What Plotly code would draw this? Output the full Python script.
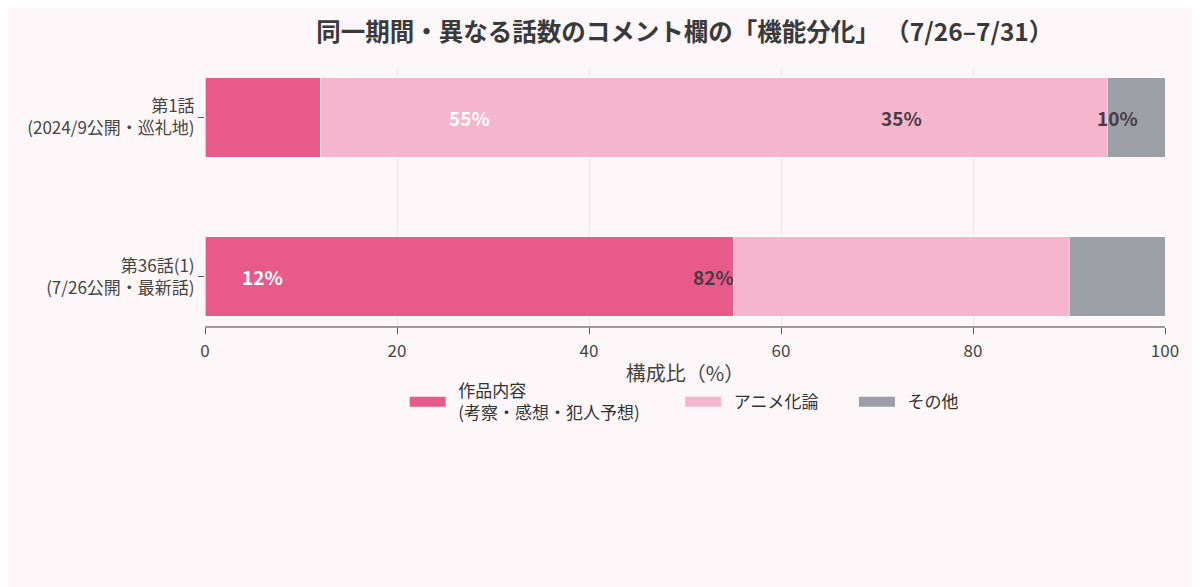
import plotly.graph_objects as go

# 話数ごとのコメント構成比（%）
episodes = ["第1話<br>(2024/9公開・巡礼地)", "第36話(1)<br>(7/26公開・最新話)"]
categories = ["作品内容<br>(考察・感想・犯人予想)", "アニメ化論", "その他"]
shares = {
    "作品内容<br>(考察・感想・犯人予想)": [12, 55],
    "アニメ化論": [82, 35],
    "その他": [6, 10],
}
colors = ["#E75A8A", "#F5B5CD", "#9CA0A6"]
label_colors = ["white", "#4a3b42", "#4a3b42"]

lead = "\u00a0" * 2   # gap between swatch and text
tail = "\u00a0" * 8   # gap before next legend entry
# the two-line entry gets its own legend so all swatches share one baseline
legend_of = ["legend", "legend2", "legend2"]

fig = go.Figure()
for k, (cat, col) in enumerate(zip(categories, colors)):
    fig.add_trace(go.Bar(
        y=episodes, x=shares[cat], name=cat, orientation="h",
        marker=dict(color=col, line=dict(color="rgba(255,255,255,0.6)", width=1)),
        width=0.5, showlegend=False,
    ))
    name = "<br>".join(lead + part for part in cat.split("<br>"))
    if k == 1:
        name += tail
    fig.add_trace(go.Scatter(
        x=[None], y=[None], mode="lines", name=name, legend=legend_of[k],
        line=dict(color=col, width=16),
    ))

# percentage labels (placed as in the original, on the opposite row; small ones dropped)
for i, ep in enumerate(episodes):
    other = 1 - i
    left = 0
    for cat, lc in zip(categories, label_colors):
        v = shares[cat][other]
        if v >= 8:
            fig.add_annotation(
                x=left + v / 2, y=ep, text="<b>%d%%</b>" % v, showarrow=False,
                font=dict(size=19, color=lc), xref="x", yref="y",
            )
        left += v

legend_style = dict(orientation="h", yanchor="middle", y=-0.295, xanchor="left",
                    itemwidth=36, traceorder="normal",
                    font=dict(size=17, color="#333333"), bgcolor="rgba(0,0,0,0)")

fig.update_layout(
    barmode="stack",
    title=dict(text="<b>同一期間・異なる話数のコメント欄の「機能分化」 （7/26–7/31）</b>",
               x=0.564, xref="container", xanchor="center",
               y=0.959, yanchor="middle", font=dict(size=24.5, color="#3a3a3a")),
    font=dict(family="Noto Sans CJK JP", size=17, color="#444444"),
    paper_bgcolor="#FDF7F9",
    plot_bgcolor="#FDF7F9",
    width=1200, height=587,
    margin=dict(l=197, r=43, t=60, b=269),
    legend=dict(legend_style, x=0.208),
    legend2=dict(legend_style, x=0.495),
    xaxis=dict(
        range=[0, 100], dtick=20, title=dict(text="構成比（%）", standoff=6),
        showgrid=True, gridcolor="#ECE3E7", zeroline=False,
        showline=True, linecolor="#9a9a9a", linewidth=2,
        ticks="outside", ticklen=6, tickcolor="#555555", ticklabelstandoff=3,
    ),
    yaxis=dict(
        categoryorder="array", categoryarray=episodes,
        range=[1.31, -0.31], ticks="outside", ticklen=6, tickcolor="#555555",
        showgrid=False,
    ),
)

fig.write_html("out.html")
